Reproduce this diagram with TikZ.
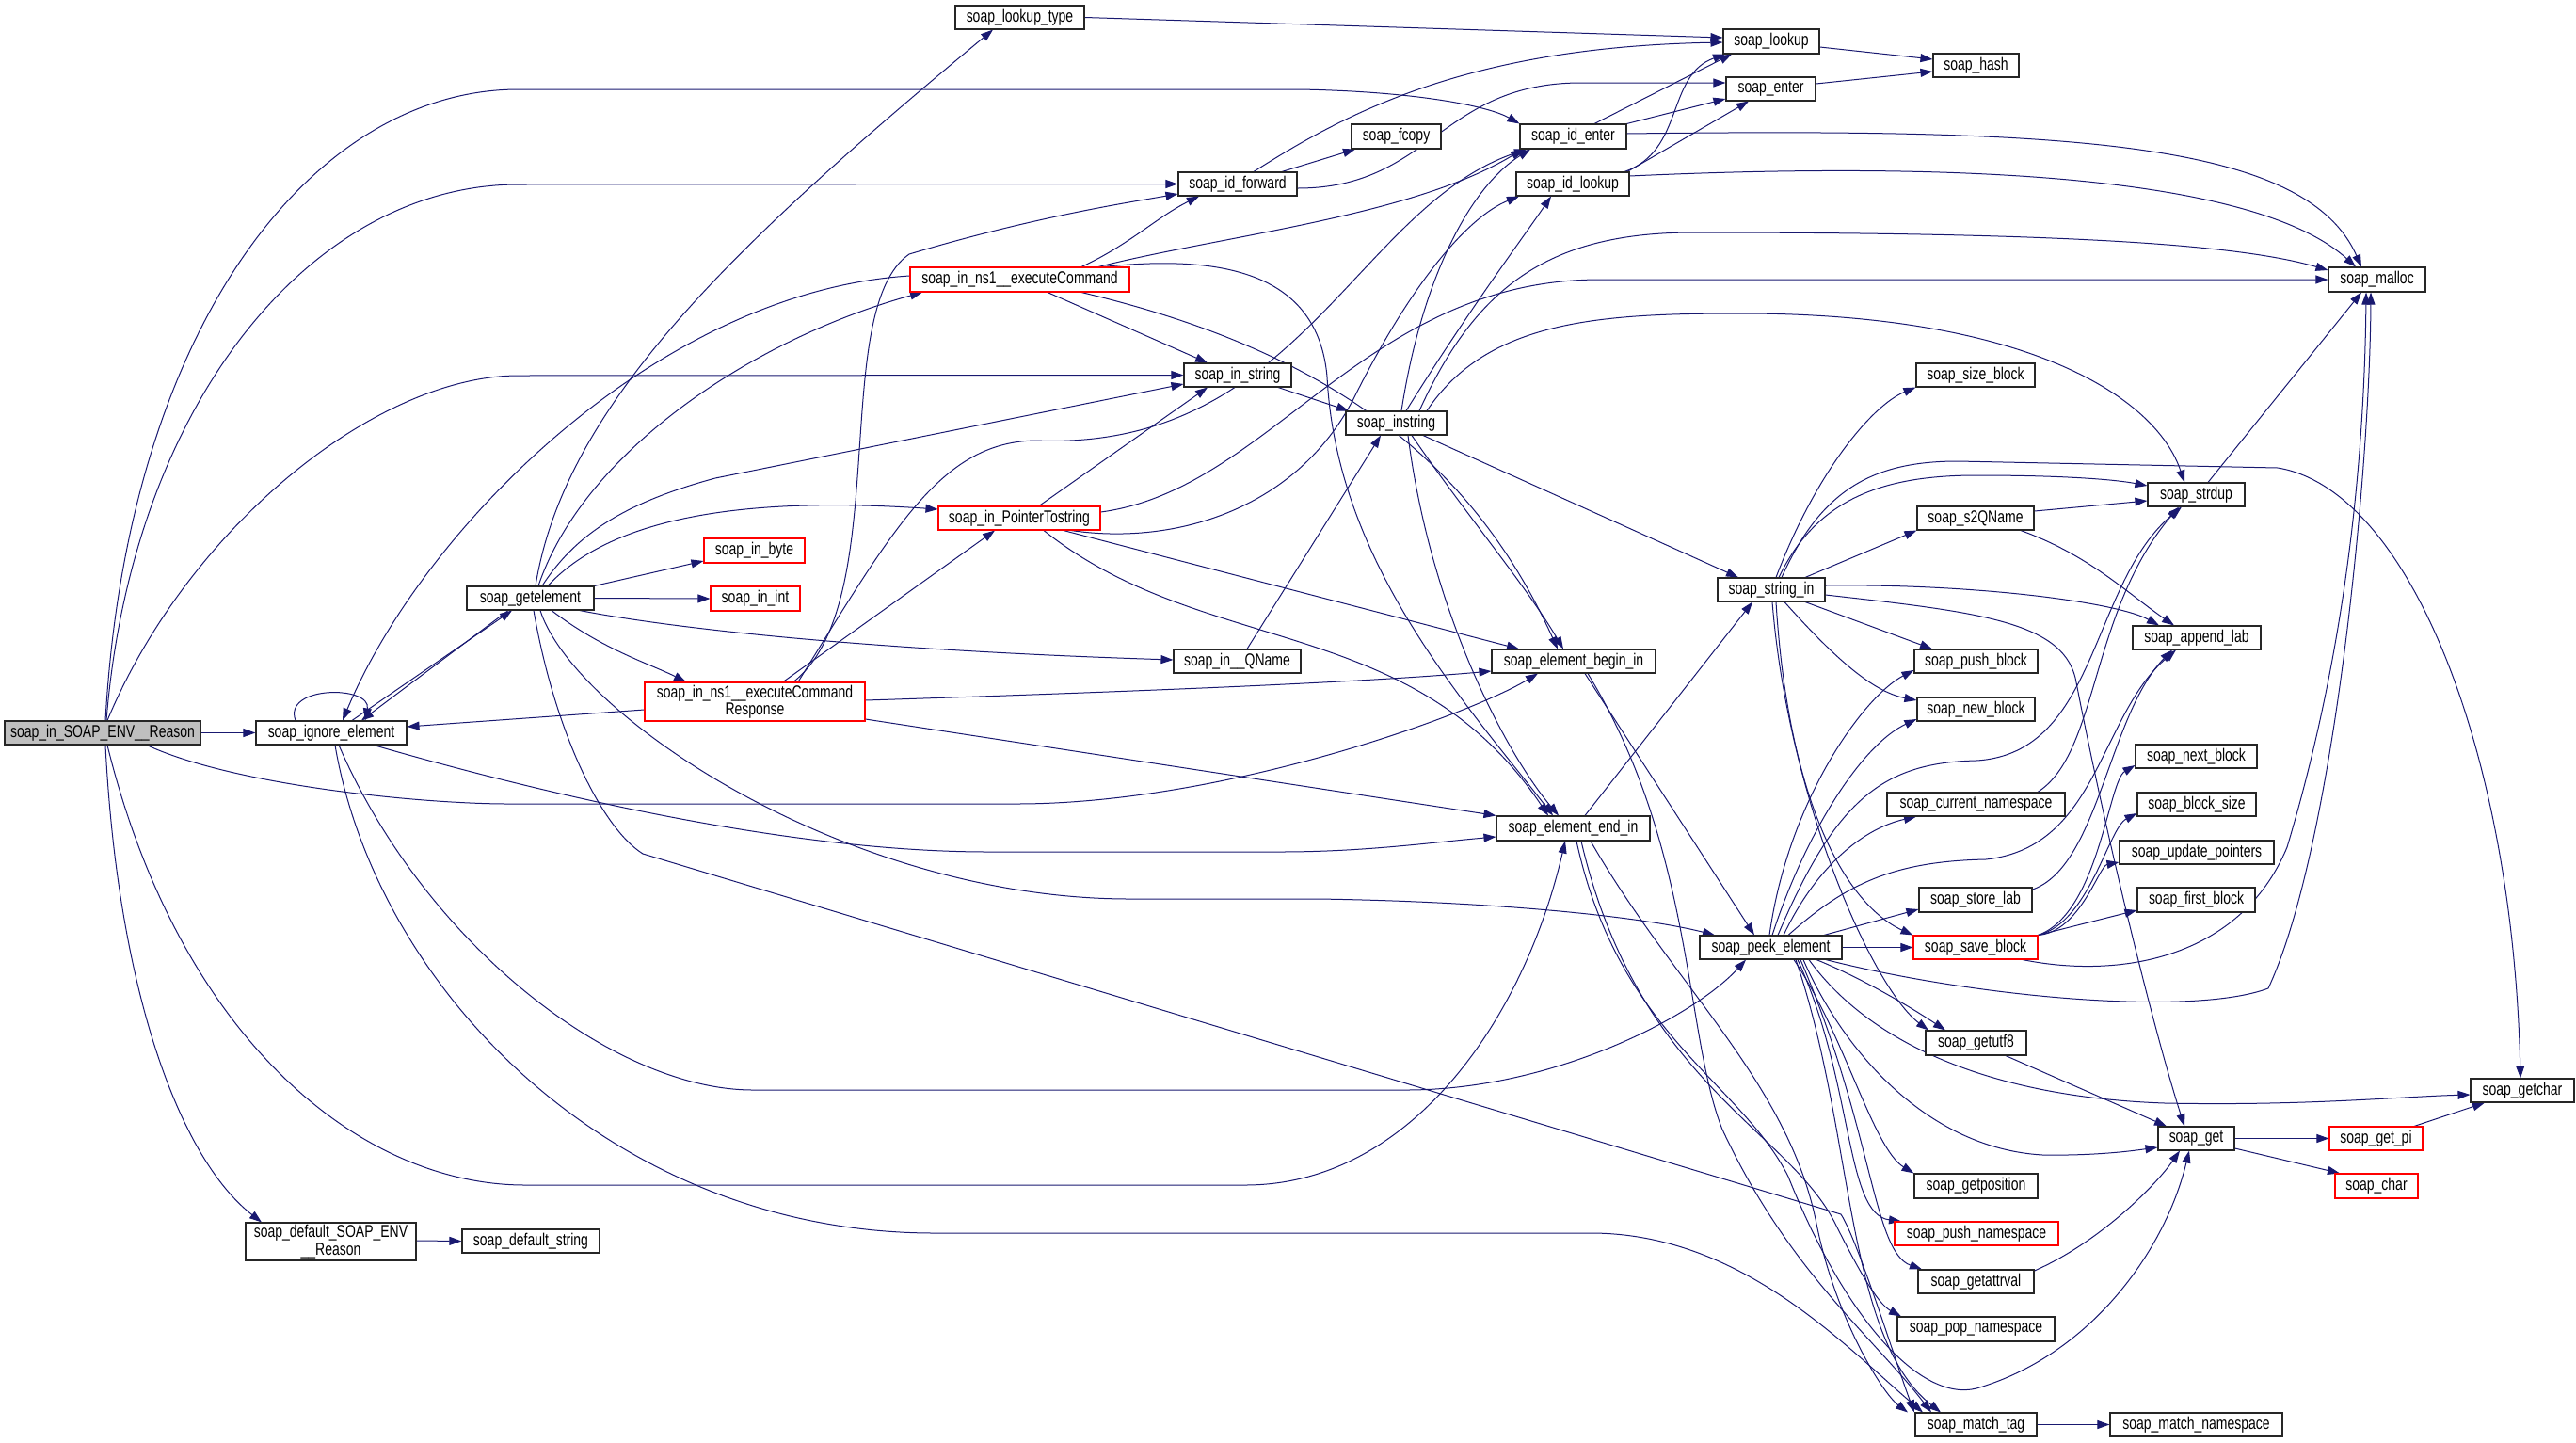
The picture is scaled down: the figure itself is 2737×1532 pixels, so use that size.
\documentclass[tikz,border=0pt]{standalone}
\usepackage{fontspec}
\setmainfont{Liberation Sans}[FakeStretch=0.76]
\usetikzlibrary{arrows.meta}
\definecolor{edgec}{RGB}{25,25,112}
\definecolor{rootfill}{RGB}{191,191,191}
\pgfdeclarelayer{bg}
\pgfsetlayers{bg,main}
\newcommand\mknode[7]{%
  \pgfmathsetmacro\ndcx{(#3+#5)/2}%
  \pgfmathsetmacro\ndcy{(#4+#6)/2}%
  \pgfmathsetmacro\ndw{(#5-#3)*0.5}%
  \pgfmathsetmacro\ndh{(#6-#4)*0.5}%
  \node[box,#1,minimum width=\ndw pt,minimum height=\ndh pt] (#2) at (\ndcx,\ndcy) {#7};}
\begin{document}
\begin{tikzpicture}[x=0.5pt,y=-0.5pt,
  box/.style={draw=black!85,fill=white,line width=0.55pt,inner sep=0pt,align=center,font=\fontsize{9.2}{7.6}\selectfont},
  redbox/.style={draw=red},
  rootbox/.style={fill=rootfill},
  call/.style={draw=edgec,line width=0.5pt,-{Triangle[length=6.5pt,width=4.5pt]}}]
\useasboundingbox (0,0) rectangle (2737,1532);

\mknode{rootbox}{reason}{5}{766}{213}{791}{soap\_in\_SOAP\_ENV\_\_Reason}
\mknode{}{ignore}{272}{766}{432}{791}{soap\_ignore\_element}
\mknode{}{getel}{496}{623}{631}{648}{soap\_getelement}
\mknode{}{lookuptype}{1015}{6}{1152}{31}{soap\_lookup\_type}
\mknode{}{idfwd}{1252}{183}{1378}{208}{soap\_id\_forward}
\mknode{redbox}{exec}{967}{284}{1200}{310}{soap\_in\_ns1\_\_executeCommand}
\mknode{}{instr}{1258}{386}{1372}{411}{soap\_in\_string}
\mknode{}{lookup}{1831}{31}{1933}{57}{soap\_lookup}
\mknode{}{enter}{1834}{82}{1929}{107}{soap\_enter}
\mknode{}{fcopy}{1436}{132}{1531}{158}{soap\_fcopy}
\mknode{}{identer}{1615}{132}{1728}{158}{soap\_id\_enter}
\mknode{}{idlookup}{1611}{183}{1731}{208}{soap\_id\_lookup}
\mknode{}{instring}{1430}{437}{1537}{462}{soap\_instring}
\mknode{}{hash}{2054}{57}{2145}{82}{soap\_hash}
\mknode{}{malloc}{2474}{284}{2577}{310}{soap\_malloc}
\mknode{}{sizeblock}{2036}{386}{2162}{411}{soap\_size\_block}
\mknode{redbox}{ptr}{997}{538}{1169}{563}{soap\_in\_PointerTostring}
\mknode{redbox}{inbyte}{748}{572}{855}{598}{soap\_in\_byte}
\mknode{redbox}{inint}{755}{623}{850}{649}{soap\_in\_int}
\mknode{}{qname}{1247}{690}{1382}{715}{soap\_in\_\_QName}
\mknode{redbox}{resp}{685}{725}{919}{766}{soap\_in\_ns1\_\_executeCommand\\Response}
\mknode{}{ebegin}{1585}{690}{1759}{715}{soap\_element\_begin\_in}
\mknode{}{eend}{1590}{867}{1753}{893}{soap\_element\_end\_in}
\mknode{}{stringin}{1825}{614}{1939}{639}{soap\_string\_in}
\mknode{}{peek}{1806}{994}{1957}{1019}{soap\_peek\_element}
\mknode{}{strdup}{2282}{513}{2385}{538}{soap\_strdup}
\mknode{}{s2q}{2037}{538}{2161}{563}{soap\_s2QName}
\mknode{}{applab}{2266}{665}{2402}{690}{soap\_append\_lab}
\mknode{}{pushblock}{2034}{690}{2165}{715}{soap\_push\_block}
\mknode{}{newblock}{2037}{741}{2162}{766}{soap\_new\_block}
\mknode{}{nextblock}{2269}{791}{2398}{816}{soap\_next\_block}
\mknode{}{curns}{2005}{842}{2194}{867}{soap\_current\_namespace}
\mknode{}{blocksize}{2271}{842}{2397}{867}{soap\_block\_size}
\mknode{}{updptr}{2252}{893}{2416}{918}{soap\_update\_pointers}
\mknode{}{storelab}{2039}{943}{2159}{969}{soap\_store\_lab}
\mknode{}{firstblock}{2271}{943}{2396}{969}{soap\_first\_block}
\mknode{redbox}{saveblock}{2033}{994}{2165}{1019}{soap\_save\_block}
\mknode{}{defreason}{261}{1299}{442}{1339}{soap\_default\_SOAP\_ENV\\\_\_Reason}
\mknode{}{defstring}{491}{1306}{637}{1331}{soap\_default\_string}
\mknode{}{getutf8}{2046}{1095}{2153}{1121}{soap\_getutf8}
\mknode{}{getpos}{2034}{1247}{2165}{1273}{soap\_getposition}
\mknode{redbox}{pushns}{2013}{1298}{2187}{1323}{soap\_push\_namespace}
\mknode{}{getattr}{2038}{1349}{2161}{1374}{soap\_getattrval}
\mknode{}{popns}{2016}{1399}{2183}{1425}{soap\_pop\_namespace}
\mknode{}{matchtag}{2035}{1501}{2164}{1526}{soap\_match\_tag}
\mknode{}{matchns}{2242}{1501}{2425}{1526}{soap\_match\_namespace}
\mknode{}{get}{2293}{1197}{2374}{1222}{soap\_get}
\mknode{redbox}{getpi}{2475}{1197}{2574}{1222}{soap\_get\_pi}
\mknode{redbox}{char}{2481}{1247}{2569}{1273}{soap\_char}
\mknode{}{getchar}{2625}{1146}{2735}{1171}{soap\_getchar}

\begin{pgfonlayer}{bg}
% root
\draw[call] (reason.east) -- (ignore.west);
\draw[call] (reason.north -| 112,0) .. controls (135,350) and (330,95) .. (551,95) -- (1380,95) .. controls (1500,97) and (1580,112) .. (identer.north west);
\draw[call] (reason.north -| 113,0) .. controls (140,430) and (330,196) .. (551,196) -- (idfwd.west);
\draw[call] (reason.north -| 114,0) .. controls (200,560) and (400,399) .. (551,399) -- (instr.west);
\draw[call] (reason.south -| 156,0) .. controls (250,835) and (450,854) .. (540,854) -- (1080,854) .. controls (1300,854) and (1560,760) .. (ebegin.south -| 1634,0);
\draw[call] (reason.south -| 114,0) .. controls (190,1100) and (380,1259) .. (558,1259) -- (1323,1259) .. controls (1500,1259) and (1620,1080) .. (eend.south -| 1663,0);
\draw[call] (reason.south -| 112,0) .. controls (125,1050) and (190,1230) .. (defreason.north -| 278,0);
% ignore
\draw[call] (ignore.north -| 314,0) .. controls (300,728) and (395,728) .. (ignore.north -| 388,0);
\draw[call] (ignore.north -| 374,0) -- (getel.south -| 544,0);
\draw[call] (getel.south -| 540,0) -- (ignore.north -| 384,0);
\draw[call] (ignore.south -| 397,0) .. controls (600,850) and (850,905) .. (1050,905) -- (1360,905) .. controls (1450,905) and (1520,895) .. (eend.west |- 0,889);
\draw[call] (ignore.south -| 360,0) .. controls (450,1000) and (650,1158) .. (800,1158) -- (1494,1158) .. controls (1650,1158) and (1800,1080) .. (peek.south -| 1855,0);
\draw[call] (ignore.south -| 356,0) .. controls (400,1050) and (650,1310) .. (993,1310) -- (1690,1310) .. controls (1850,1310) and (1960,1430) .. (matchtag.north -| 2043,0);
% getelement
\draw[call] (getel.north -| 569,0) .. controls (600,430) and (780,260) .. (lookuptype.south -| 1055,0);
\draw[call] (getel.north -| 572,0) .. controls (620,480) and (800,360) .. (exec.south -| 980,0);
\draw[call] (getel.north -| 576,0) .. controls (610,570) and (660,535) .. (760,508) -- (instr.west |- 0,408);
\draw[call] (getel.north -| 582,0) .. controls (640,560) and (760,525) .. (ptr.west |- 0,541);
\draw[call] (getel.north east) -- (inbyte.west |- 0,596);
\draw[call] (getel.east) -- (inint.west);
\draw[call] (getel.south -| 616,0) .. controls (700,665) and (900,690) .. (qname.west |- 0,701);
\draw[call] (getel.south -| 586,0) .. controls (640,690) and (690,705) .. (resp.north -| 729,0);
\draw[call] (getel.south -| 574,0) .. controls (610,760) and (900,955) .. (1200,955) -- (1400,955) .. controls (1600,958) and (1750,975) .. (peek.north -| 1822,0);
\draw[call] (getel.south -| 567,0) .. controls (590,780) and (640,880) .. (683,907) -- (1956,1290) .. controls (1975,1320) and (2015,1450) .. (matchtag.north -| 2034,0);
% executeCommand
\draw[call] (exec.west |- 0,293) .. controls (700,310) and (450,560) .. (ignore.north -| 364,0);
\draw[call] (exec.north -| 1149,0) .. controls (1200,260) and (1230,230) .. (idfwd.south -| 1274,0);
\draw[call] (exec.north -| 1167,0) .. controls (1300,250) and (1500,230) .. (identer.south -| 1618,0);
\draw[call] (exec.south -| 1113,0) -- (instr.north -| 1283,0);
\draw[call] (exec.south -| 1149,0) .. controls (1400,370) and (1560,480) .. (ebegin.north -| 1655,0);
\draw[call] (exec.north -| 1172,0) .. controls (1300,270) and (1400,290) .. (1410,400) .. controls (1420,600) and (1560,750) .. (eend.north -| 1650,0);
% executeCommandResponse
\draw[call] (resp.west |- 0,754) -- (ignore.east |- 0,772);
\draw[call] (resp.north -| 843,0) .. controls (950,640) and (880,330) .. (966,270) .. controls (1100,230) and (1200,215) .. (idfwd.west |- 0,206);
\draw[call] (resp.north -| 848,0) .. controls (950,560) and (1000,470) .. (1100,468) .. controls (1380,480) and (1440,220) .. (identer.south -| 1622,0);
\draw[call] (resp.north -| 832,0) -- (ptr.south -| 1057,0);
\draw[call] (resp.east |- 0,744) .. controls (1200,735) and (1450,725) .. (ebegin.west |- 0,713);
\draw[call] (resp.east |- 0,764) -- (eend.north west);
% PointerTostring
\draw[call] (ptr.north -| 1104,0) -- (instr.south -| 1283,0);
\draw[call] (ptr.east |- 0,544) .. controls (1350,520) and (1450,297) .. (1700,297) -- (malloc.west |- 0,297);
\draw[call] (ptr.south -| 1138,0) .. controls (1250,580) and (1380,540) .. (1440,420) .. controls (1500,300) and (1560,230) .. (idlookup.south -| 1614,0);
\draw[call] (ptr.south -| 1130,0) -- (ebegin.north -| 1614,0);
\draw[call] (ptr.south -| 1109,0) .. controls (1280,700) and (1500,650) .. (eend.north -| 1645,0);
% in_string, QName
\draw[call] (instr.south -| 1358,0) -- (instring.north -| 1433,0);
\draw[call] (qname.north -| 1325,0) -- (instring.south -| 1467,0);
% instring
\draw[call] (instring.north -| 1489,0) .. controls (1510,300) and (1560,200) .. (identer.south -| 1626,0);
\draw[call] (instring.north -| 1494,0) .. controls (1560,330) and (1620,250) .. (idlookup.south -| 1648,0);
\draw[call] (instring.north -| 1508,0) .. controls (1570,300) and (1650,247) .. (1800,247) .. controls (2200,247) and (2380,260) .. (malloc.west |- 0,287);
\draw[call] (instring.north -| 1516,0) .. controls (1580,340) and (1700,333) .. (1850,333) .. controls (2150,333) and (2290,420) .. (strdup.north -| 2321,0);
\draw[call] (instring.south -| 1512,0) -- (stringin.north -| 1847,0);
\draw[call] (instring.south -| 1500,0) .. controls (1560,550) and (1620,620) .. (ebegin.north -| 1661,0);
\draw[call] (instring.south -| 1496,0) .. controls (1520,650) and (1600,800) .. (eend.north -| 1656,0);
% id_forward, id_enter, id_lookup, lookup_type
\draw[call] (idfwd.north -| 1332,0) .. controls (1430,120) and (1560,50) .. (lookup.west |- 0,45);
\draw[call] (idfwd.east |- 0,200) .. controls (1520,200) and (1530,88) .. (1680,88) -- (enter.west |- 0,88);
\draw[call] (idfwd.north -| 1362,0) -- (fcopy.south -| 1440,0);
\draw[call] (lookuptype.east) -- (lookup.west |- 0,40);
\draw[call] (lookup.east |- 0,50) -- (hash.west |- 0,63);
\draw[call] (enter.east |- 0,89) -- (hash.west |- 0,76);
\draw[call] (identer.north -| 1694,0) -- (lookup.south -| 1840,0);
\draw[call] (identer.north east) -- (enter.west |- 0,105);
\draw[call] (identer.east |- 0,142) .. controls (2200,136) and (2450,150) .. (malloc.north -| 2509,0);
\draw[call] (idlookup.north -| 1726,0) .. controls (1790,160) and (1770,80) .. (lookup.south -| 1833,0);
\draw[call] (idlookup.north -| 1729,0) -- (enter.south -| 1858,0);
\draw[call] (idlookup.east |- 0,187) .. controls (2100,170) and (2400,190) .. (malloc.north -| 2503,0);
% element_begin_in, element_end_in
\draw[call] (ebegin.south -| 1684,0) -- (peek.north -| 1864,0);
\draw[call] (ebegin.south -| 1687,0) .. controls (1800,900) and (1790,1100) .. (1830,1200) .. controls (1900,1350) and (1990,1420) .. (matchtag.north -| 2052,0);
\draw[call] (eend.north -| 1684,0) -- (stringin.south -| 1862,0);
\draw[call] (eend.south -| 1675,0) .. controls (1720,1100) and (1850,1150) .. (1900,1250) .. controls (1960,1400) and (2040,1490) .. (2100,1475) .. controls (2220,1440) and (2300,1330) .. (get.south -| 2326,0);
\draw[call] (eend.south -| 1680,0) .. controls (1740,1150) and (1900,1200) .. (1950,1300) .. controls (1975,1350) and (1995,1385) .. (popns.north -| 2020,0);
\draw[call] (eend.south -| 1690,0) .. controls (1780,1050) and (1900,1150) .. (1930,1300) .. controls (1950,1400) and (2000,1480) .. (matchtag.north -| 2027,0);
% string_in
\draw[call] (stringin.north -| 1887,0) .. controls (1930,500) and (1990,430) .. (sizeblock.south west);
\draw[call] (stringin.north -| 1890,0) .. controls (1930,530) and (2000,505) .. (2100,505) .. controls (2200,505) and (2250,510) .. (strdup.west |- 0,516);
\draw[call] (stringin.north -| 1893,0) .. controls (1935,520) and (1990,490) .. (2080,490) -- (2420,497) .. controls (2560,520) and (2670,800) .. (getchar.north -| 2678,0);
\draw[call] (stringin.north -| 1918,0) -- (s2q.south west);
\draw[call] (stringin.east |- 0,622) .. controls (2100,620) and (2250,640) .. (applab.north -| 2294,0);
\draw[call] (stringin.east |- 0,632) .. controls (2100,650) and (2190,660) .. (2205,720) .. controls (2240,900) and (2290,1100) .. (get.north -| 2321,0);
\draw[call] (stringin.south -| 1918,0) -- (pushblock.north -| 2053,0);
\draw[call] (stringin.south -| 1896,0) .. controls (1950,700) and (1990,735) .. (newblock.west |- 0,744);
\draw[call] (stringin.south -| 1887,0) .. controls (1900,850) and (1960,960) .. (saveblock.north west);
\draw[call] (stringin.south -| 1883,0) .. controls (1900,850) and (1990,1050) .. (getutf8.north -| 2049,0);
% s2QName, current_namespace, store_lab, save_block, strdup
\draw[call] (s2q.east |- 0,543) -- (strdup.west |- 0,532);
\draw[call] (s2q.south -| 2147,0) .. controls (2220,590) and (2260,630) .. (applab.north -| 2310,0);
\draw[call] (curns.north -| 2165,0) .. controls (2230,800) and (2220,650) .. (strdup.south -| 2315,0);
\draw[call] (storelab.east |- 0,945) .. controls (2230,920) and (2240,760) .. (applab.south -| 2308,0);
\draw[call] (saveblock.north east) .. controls (2230,970) and (2240,830) .. (nextblock.west |- 0,813);
\draw[call] (saveblock.north east) .. controls (2220,980) and (2240,880) .. (blocksize.west |- 0,864);
\draw[call] (saveblock.north east) .. controls (2210,990) and (2230,920) .. (updptr.west |- 0,916);
\draw[call] (saveblock.north east) -- (firstblock.west |- 0,967);
\draw[call] (saveblock.south -| 2149,0) .. controls (2250,1040) and (2380,1020) .. (2430,900) .. controls (2490,700) and (2512,500) .. (malloc.south -| 2514,0);
\draw[call] (strdup.north -| 2346,0) -- (malloc.south -| 2509,0);
% peek_element
\draw[call] (peek.east) -- (saveblock.west);
\draw[call] (peek.north -| 1880,0) .. controls (1900,850) and (1980,740) .. (pushblock.west |- 0,712);
\draw[call] (peek.north -| 1883,0) .. controls (1920,880) and (1980,790) .. (newblock.west |- 0,764);
\draw[call] (peek.north -| 1889,0) .. controls (1950,850) and (2000,810) .. (2100,808) .. controls (2230,800) and (2220,620) .. (strdup.south -| 2318,0);
\draw[call] (peek.north -| 1895,0) .. controls (1930,920) and (1980,880) .. (curns.south -| 2036,0);
\draw[call] (peek.north -| 1900,0) .. controls (1960,940) and (2010,915) .. (2110,913) .. controls (2230,900) and (2230,760) .. (applab.south -| 2312,0);
\draw[call] (peek.north -| 1938,0) -- (storelab.west |- 0,966);
\draw[call] (peek.south -| 1940,0) .. controls (2100,1060) and (2330,1080) .. (2410,1050) .. controls (2480,900) and (2518,500) .. (malloc.south -| 2519,0);
\draw[call] (peek.south -| 1930,0) .. controls (1980,1040) and (2030,1070) .. (getutf8.north -| 2067,0);
\draw[call] (peek.south -| 1922,0) .. controls (1980,1100) and (2100,1165) .. (2300,1172) .. controls (2450,1175) and (2550,1165) .. (getchar.west |- 0,1163);
\draw[call] (peek.south -| 1916,0) .. controls (1960,1120) and (2050,1220) .. (2170,1227) .. controls (2230,1228) and (2270,1222) .. (get.west |- 0,1219);
\draw[call] (peek.south -| 1906,0) .. controls (1960,1100) and (1990,1220) .. (getpos.north west);
\draw[call] (peek.south -| 1910,0) .. controls (1970,1150) and (1960,1290) .. (pushns.north -| 2020,0);
\draw[call] (peek.south -| 1913,0) .. controls (1990,1200) and (1990,1330) .. (getattr.north -| 2042,0);
\draw[call] (peek.south -| 1908,0) .. controls (1970,1200) and (1960,1420) .. (matchtag.north -| 2062,0);
% leaves
\draw[call] (getutf8.south -| 2131,0) -- (get.north -| 2302,0);
\draw[call] (getattr.east |- 0,1350) .. controls (2230,1320) and (2290,1260) .. (get.south -| 2316,0);
\draw[call] (get.east) -- (getpi.west);
\draw[call] (get.east |- 0,1220) -- (char.north -| 2486,0);
\draw[call] (getpi.north -| 2565,0) -- (getchar.south -| 2640,0);
\draw[call] (matchtag.east) -- (matchns.west);
\draw[call] (defreason.east |- 0,1318) -- (defstring.west);
\end{pgfonlayer}
\end{tikzpicture}
\end{document}
